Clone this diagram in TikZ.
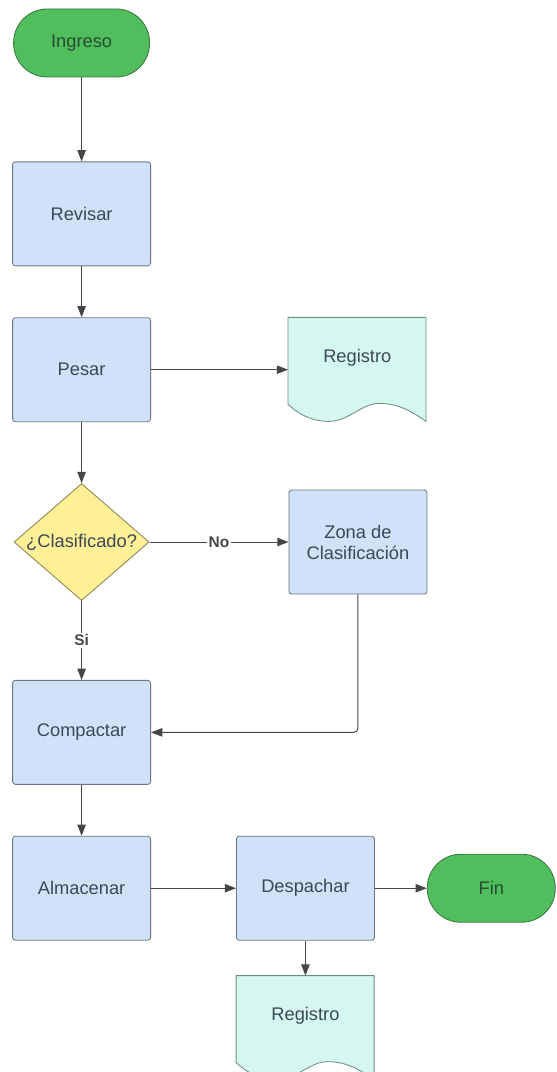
\documentclass[tikz,border=0pt]{standalone}
\usepackage{fontspec}
\setmainfont{Liberation Sans}
\usetikzlibrary{positioning,shapes.geometric,arrows.meta,backgrounds}

\definecolor{termfill}{RGB}{80,190,92}
\definecolor{termline}{RGB}{58,118,64}
\definecolor{termtext}{RGB}{38,78,48}
\definecolor{procfill}{RGB}{207,226,250}
\definecolor{procline}{RGB}{108,118,132}
\definecolor{decfill}{RGB}{255,240,150}
\definecolor{decline}{RGB}{140,130,80}
\definecolor{docfill}{RGB}{212,247,240}
\definecolor{docline}{RGB}{110,140,135}
\definecolor{txt}{RGB}{60,72,88}
\definecolor{arrowcol}{RGB}{70,70,70}

% wavy document outline below a named node
\newcommand{\docoutline}[1]{%
  \begin{scope}[shift={(#1.north west)}]
    \draw[fill=docfill,draw=docline,line width=0.6pt] (0,0) -- (0,-2.175)
      .. controls (0.35,-2.5) and (0.7,-2.6) .. (1.025,-2.6)
      .. controls (1.5,-2.6) and (1.85,-2.15) .. (2.275,-2.15)
      .. controls (2.75,-2.15) and (3.1,-2.35) .. (3.45,-2.6)
      -- (3.45,0) -- cycle;
  \end{scope}}

\begin{document}
\begin{tikzpicture}[
    font=\fontsize{13}{15}\selectfont,
    terminal/.style={rectangle,rounded corners=0.84cm,draw=termline,fill=termfill,text=termtext,
      line width=0.6pt,minimum width=3.4cm,minimum height=1.7cm,inner sep=0pt},
    process/.style={rectangle,rounded corners=2pt,draw=procline,fill=procfill,text=txt,
      line width=0.6pt,minimum width=3.45cm,minimum height=2.6cm,inner sep=0pt,align=center},
    decision/.style={diamond,draw=decline,fill=decfill,line width=0.6pt,
      minimum width=3.375cm,minimum height=2.925cm,inner sep=0pt},
    document/.style={rectangle,text=txt,minimum width=3.45cm,minimum height=2cm,inner sep=0pt},
    flow/.style={draw=arrowcol,line width=0.7pt,-{Triangle[length=8pt,width=6pt]}},
    edgelabel/.style={fill=white,inner sep=1pt,text=arrowcol,font=\fontsize{11}{13}\selectfont\bfseries}]

    \useasboundingbox (0,0) rectangle (13.9,-26.8);

    \node[terminal] (ingreso) at (2.04,-1.075) {Ingreso};
    \node[process] (revisar) [below=2.1cm of ingreso] {Revisar};
    \node[process] (pesar) [below=1.275cm of revisar] {Pesar};
    \node[document] (registro1) [right=3.425cm of pesar,yshift=0.3cm] {Registro};
    \node[decision] (clasificado) [below=1.525cm of pesar] {};
    \node[text=txt] at (clasificado.center) {¿Clasificado?};
    \node[process] (zona) [right=3.475cm of clasificado] {Zona de\\Clasificación};
    \node[process] (compactar) [below=1.975cm of clasificado] {Compactar};
    \node[process] (almacenar) [below=1.275cm of compactar] {Almacenar};
    \node[process] (despachar) [right=2.125cm of almacenar] {Despachar};
    \node[terminal,minimum width=3.2cm] (fin) [right=1.3cm of despachar] {Fin};
    \node[document] (registro2) [below=0.875cm of despachar] {Registro};

    \begin{scope}[on background layer]
        \docoutline{registro1}
        \docoutline{registro2}
    \end{scope}

    \draw[flow] (ingreso) -- (revisar);
    \draw[flow] (revisar) -- (pesar);
    \draw[flow] (pesar.east) -- (pesar.east -| registro1.west);
    \draw[flow] (pesar) -- (clasificado);
    \draw[flow] (clasificado.east) -- node[edgelabel] {No} (zona.west);
    \draw[flow] (clasificado.south) -- node[edgelabel] {Si} (compactar.north);
    \draw[flow,rounded corners=3pt] (zona.south) |- (compactar.east);
    \draw[flow] (compactar) -- (almacenar);
    \draw[flow] (almacenar) -- (despachar);
    \draw[flow] (despachar) -- (fin);
    \draw[flow] (despachar) -- (registro2);
\end{tikzpicture}
\end{document}
